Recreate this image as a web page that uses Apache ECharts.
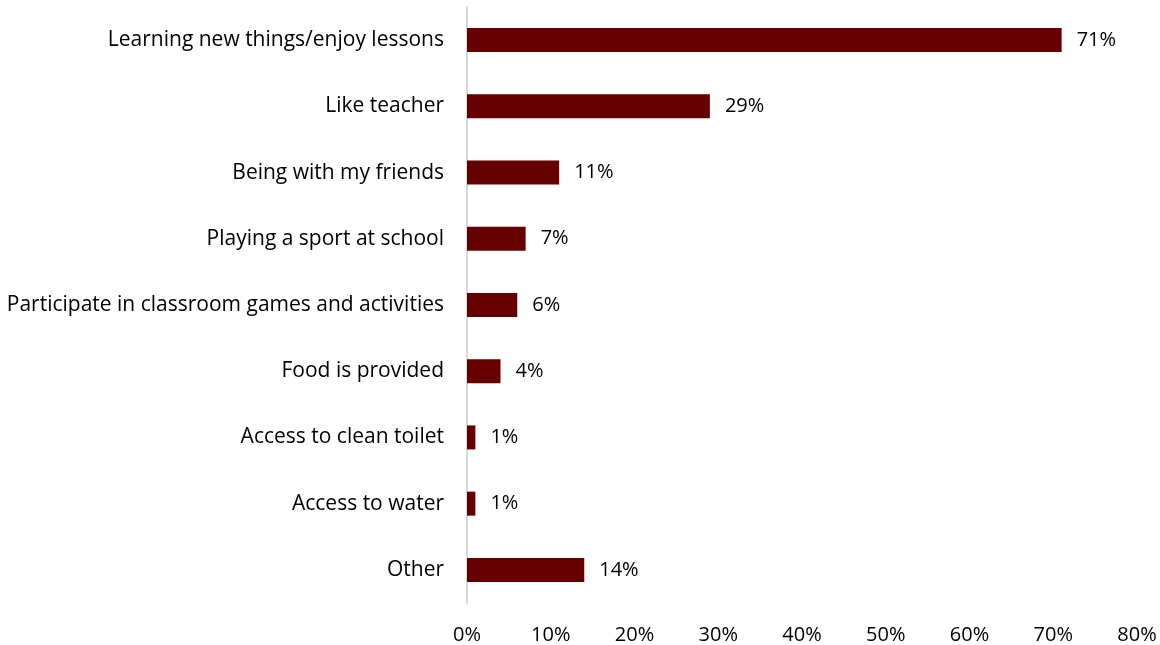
<!DOCTYPE html>
<html>
<head>
<meta charset="utf-8">
<script src="https://cdn.jsdelivr.net/npm/echarts@6/dist/echarts.min.js"></script>
<style>
  html, body { margin: 0; padding: 0; background: #fff; }
  #chart { width: 1160px; height: 645px; }
</style>
</head>
<body>
<div id="chart"></div>
<script>
// Reasons pupils like going to school (share of respondents, %)
const categories = [
  'Learning new things/enjoy lessons',
  'Like teacher',
  'Being with my friends',
  'Playing a sport at school',
  'Participate in classroom games and activities',
  'Food is provided',
  'Access to clean toilet',
  'Access to water',
  'Other'
];
const values = [71, 29, 11, 7, 6, 4, 1, 1, 14];
const tickLabels = ['0%', '10%', '20%', '30%', '40%', '50%', '60%', '70%', '80%'];

const FONT = '"Open Sans", Lato, sans-serif';
const chart = echarts.init(document.getElementById('chart'), null, { renderer: 'canvas' });

chart.setOption({
  animation: false,
  backgroundColor: '#ffffff',
  grid: { left: 467, right: 23, top: 7, bottom: 42, containLabel: false },
  xAxis: {
    type: 'value',
    min: 0,
    max: 80,
    interval: 10,
    axisLine: { show: false },
    axisTick: { show: false },
    splitLine: { show: false },
    axisLabel: {
      color: '#000',
      fontFamily: FONT,
      fontSize: 20,
      margin: 22,
      formatter: (v) => tickLabels[Math.round(v / 10)]
    }
  },
  yAxis: {
    type: 'category',
    data: categories,
    inverse: true,
    axisLine: { show: true, lineStyle: { color: '#d9d9d9', width: 2 } },
    axisTick: { show: false },
    axisLabel: {
      color: '#000',
      fontFamily: FONT,
      fontSize: 21,
      margin: 23,
      padding: [4, 0, 0, 0]
    }
  },
  series: [{
    type: 'bar',
    data: values,
    barWidth: 24,
    itemStyle: { color: '#660000' },
    label: {
      show: true,
      position: 'right',
      distance: 15,
      color: '#000',
      fontFamily: FONT,
      fontSize: 20,
      padding: [3, 0, 0, 0],
      formatter: (p) => p.value + '%'
    }
  }]
});
</script>
</body>
</html>
